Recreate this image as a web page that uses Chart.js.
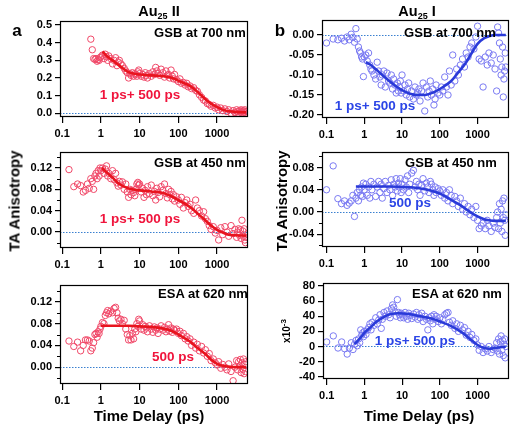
<!DOCTYPE html>
<html>
<head>
<meta charset="utf-8">
<script src="https://cdn.jsdelivr.net/npm/chart.js@4.4.1/dist/chart.umd.min.js"></script>
<style>
  body { margin: 0; width: 514px; height: 427px; position: relative; overflow: hidden; background: #fff;
         font-family: Arial, "Liberation Sans", sans-serif; }
  canvas { position: absolute; }
  .lbl { position: absolute; font-weight: bold; white-space: nowrap; line-height: 1; transform: translate(-50%, -50%); }
  .rot { transform: translate(-50%, -50%) rotate(-90deg); }
  .sub { font-size: 9px; position: relative; top: 3px; }
  .sup { font-size: 8px; position: relative; top: -4px; }
</style>
</head>
<body>
<div class="lbl" style="left:159px;top:11px;font-size:14.5px">Au<span class="sub">25</span> II</div>
<div class="lbl" style="left:417px;top:11px;font-size:14.5px">Au<span class="sub">25</span> I</div>
<div class="lbl" style="left:17px;top:30px;font-size:17px">a</div>
<div class="lbl" style="left:280px;top:30px;font-size:17px">b</div>
<div class="lbl rot" style="left:14px;top:201px;font-size:15px">TA Anisotropy</div>
<div class="lbl rot" style="left:281px;top:201px;font-size:15px">TA Anisotropy</div>
<div class="lbl" style="left:149px;top:415px;font-size:15px">Time Delay (ps)</div>
<div class="lbl" style="left:419px;top:415px;font-size:15px">Time Delay (ps)</div>
<div class="lbl rot" style="left:287px;top:331px;font-size:10px">x10<span class="sup">-3</span></div>

<script>
// shared pump-probe delays (ps)
const delays = [
  0.1, 0.15, 0.2, 0.25, 0.3, 0.35, 0.4, 0.45, 0.5, 0.55, 0.6, 0.65, 0.7, 0.75, 0.8, 0.85, 0.9, 0.95,
  1.0, 1.1, 1.2, 1.3, 1.4, 1.5, 1.6, 1.8, 2.0, 2.2, 2.4, 2.6, 2.8, 3.0, 3.3, 3.6, 4.0, 4.4, 4.8, 5.2, 5.6, 6.0, 6.5, 7.0, 7.5, 8.0, 8.5, 9.0, 9.5,
  10, 11, 12, 13, 14, 15, 16, 18, 20, 22, 24, 26, 28, 30, 33, 36, 40, 44, 48, 52, 56, 60, 65, 70, 75, 80, 90,
  100, 110, 120, 135, 150, 165, 180, 200, 220, 250, 280, 310, 350, 400, 450, 500, 560, 630, 700, 800, 900,
  1000, 1100, 1250, 1400, 1600, 1800, 2000, 2300, 2600, 2900, 3200, 3400, 3600, 3800, 4000, 4200, 4400, 4600, 4800, 5000, 5200, 5400, 5600
];

// Au25 II, GSB 700 nm
const a700 = [
  null, null, null, null, null, null, null, null, null, 0.42, 0.36, 0.31, 0.305, 0.31, 0.295, 0.305, 0.30, 0.315,
  0.32, 0.33, 0.31, 0.335, 0.32, 0.30, 0.325, 0.31, 0.28, 0.30, 0.315, 0.27, 0.29, 0.30, 0.28, 0.27, 0.255, 0.24, 0.23, 0.20, 0.225, 0.215, 0.23, 0.21, 0.225, 0.22, 0.21, 0.235, 0.245,
  0.225, 0.21, 0.22, 0.205, 0.23, 0.215, 0.20, 0.225, 0.21, 0.235, 0.22, 0.26, 0.24, 0.225, 0.215, 0.25, 0.23, 0.205, 0.24, 0.215, 0.22, 0.20, 0.245, 0.21, 0.195, 0.22, 0.19,
  0.18, 0.195, 0.17, 0.175, 0.16, 0.17, 0.15, 0.155, 0.14, 0.145, 0.13, 0.125, 0.105, 0.09, 0.075, 0.07, 0.055, 0.05, 0.04, 0.045, 0.03,
  0.035, 0.02, 0.03, 0.015, 0.025, 0.01, 0.02, 0.0, 0.015, 0.005, 0.02, 0.01, 0.0, 0.015, 0.005, 0.02, 0.01, 0.0, 0.015, 0.005, 0.02, 0.0, 0.01
];
// Au25 II, GSB 450 nm
const a450 = [
  null, 0.117, 0.085, 0.09, 0.087, 0.075, 0.078, 0.09, 0.082, 0.10, 0.095, 0.08, 0.105, 0.11, 0.10, 0.115, 0.105, 0.12,
  0.115, 0.12, 0.11, 0.118, 0.124, 0.105, 0.11, 0.10, 0.115, 0.098, 0.11, 0.092, 0.086, 0.095, 0.088, 0.094, 0.08, 0.09, 0.075, 0.065, 0.08, 0.07, 0.078, 0.074, 0.068, 0.08, 0.09, 0.093, 0.088,
  0.09, 0.075, 0.082, 0.065, 0.078, 0.07, 0.085, 0.072, 0.088, 0.068, 0.076, 0.06, 0.082, 0.074, 0.066, 0.085, 0.078, 0.09, 0.072, 0.064, 0.08, 0.07, 0.076, 0.062, 0.07, 0.058, 0.066,
  0.06, 0.052, 0.065, 0.045, 0.055, 0.06, 0.048, 0.052, 0.04, 0.035, 0.06, 0.045, 0.04, 0.03, 0.038, 0.025, 0.02, 0.012, 0.005, 0.01, -0.002,
  0.003, -0.015, 0.008, -0.005, 0.01, 0.0, -0.008, 0.012, -0.003, 0.005, -0.01, 0.0, 0.006, -0.006, 0.004, -0.012, 0.022, 0.002, -0.008, 0.006, -0.015, -0.02, -0.01
];
// Au25 II, ESA 620 nm
const a620 = [
  null, 0.048, 0.038, 0.046, 0.03, 0.04, 0.05, 0.05, 0.048, 0.03, 0.035, 0.045, 0.06, 0.062, 0.055, 0.065, 0.062, 0.07,
  0.075, 0.082, 0.08, 0.095, 0.1, 0.104, 0.098, 0.103, 0.1, 0.108, 0.11, 0.1, 0.09, 0.085, 0.088, 0.08, 0.086, 0.07, 0.06, 0.05, 0.058, 0.05, 0.062, 0.052, 0.07, 0.065, 0.08, 0.075, 0.088,
  0.085, 0.07, 0.078, 0.068, 0.075, 0.072, 0.065, 0.076, 0.07, 0.064, 0.074, 0.068, 0.072, 0.062, 0.07, 0.076, 0.068, 0.073, 0.065, 0.07, 0.078, 0.066, 0.072, 0.064, 0.07, 0.068, 0.07,
  0.062, 0.066, 0.058, 0.062, 0.052, 0.056, 0.048, 0.052, 0.04, 0.046, 0.035, 0.042, 0.03, 0.038, 0.026, 0.032, 0.02, 0.025, 0.012, 0.015, 0.008,
  0.004, 0.01, -0.002, 0.005, 0.0, -0.005, 0.006, -0.008, -0.025, 0.0, 0.012, -0.005, 0.01, 0.002, 0.014, -0.01, 0.008, -0.004, 0.015, -0.012, 0.005, -0.008, 0.01
];
// Au25 I, GSB 700 nm
const b700 = [
  -0.02, -0.01, -0.012, -0.008, -0.015, -0.005, -0.012, 0.002, -0.006, -0.018, 0.016, -0.01, -0.03, -0.04, -0.045, -0.055, -0.06, -0.104,
  -0.055, -0.05, -0.065, -0.045, -0.075, -0.085, -0.09, -0.1, -0.11, -0.068, -0.09, -0.105, -0.125, -0.1, -0.09, -0.13, -0.095, -0.115, -0.12, -0.1, -0.135, -0.11, -0.125, -0.145, -0.12, -0.14, -0.13, -0.115, -0.145,
  -0.1, -0.14, -0.125, -0.15, -0.135, -0.12, -0.155, -0.14, -0.16, -0.13, -0.15, -0.145, -0.135, -0.165, -0.14, -0.12, -0.19, -0.13, -0.155, -0.14, -0.115, -0.15, -0.135, -0.175, -0.16, -0.125, -0.145,
  -0.15, -0.13, -0.14, -0.105, -0.13, -0.15, -0.09, -0.125, -0.05, -0.115, -0.085, -0.1, -0.075, -0.06, -0.08, -0.045, -0.055, -0.03, -0.02, -0.035, -0.005,
  0.022, -0.06, -0.065, -0.13, -0.055, -0.075, -0.045, -0.07, -0.05, -0.085, -0.14, 0.02, 0.005, -0.02, -0.06, -0.1, -0.08, -0.03, -0.155, -0.11, -0.09, -0.045, -0.08
];
// Au25 I, GSB 450 nm
const b450 = [
  0.04, 0.083, 0.024, 0.015, 0.02, 0.012, 0.016, 0.02, 0.03, -0.008, 0.025, 0.035, 0.02, 0.04, 0.03, 0.045, 0.028, 0.052,
  0.04, 0.05, 0.03, 0.045, 0.025, 0.055, 0.04, 0.05, 0.028, 0.045, 0.055, 0.035, 0.05, 0.025, 0.042, 0.055, 0.035, 0.048, 0.04, 0.058, 0.03, 0.05, 0.045, 0.06, 0.038, 0.052, 0.045, 0.06, 0.035,
  0.05, 0.04, 0.058, 0.045, 0.065, 0.035, 0.05, 0.07, 0.075, 0.045, 0.055, 0.04, 0.05, 0.03, 0.048, 0.06, 0.038, 0.052, 0.045, 0.035, 0.055, 0.05, 0.04, 0.03, 0.045, 0.035, 0.042,
  0.038, 0.03, 0.04, 0.025, 0.035, 0.02, 0.04, 0.03, 0.015, 0.028, 0.02, 0.01, 0.025, 0.005, 0.015, 0.0, 0.01, -0.005, 0.005, -0.01, 0.01,
  -0.015, -0.03, -0.025, -0.02, -0.03, -0.015, -0.025, -0.035, -0.02, -0.028, -0.01, 0.0, -0.03, 0.015, -0.02, 0.005, -0.035, 0.02, -0.01, 0.025, -0.015, -0.042, -0.005
];
// Au25 I, ESA 620 nm (x10^-3)
const b620 = [
  6, 14, -2, 6, -3, -10, -2, 5, -4, 3, 8, 1, 10, 5, 22, 15, 18, 13,
  20, 16, 22, 25, 30, 22, 32, 28, 38, 30, 35, 42, 24, 36, 45, 40, 47, 42, 38, 50, 55, 52, 46, 40, 62, 45, 42, 38, 44,
  42, 38, 45, 40, 36, 44, 41, 37, 43, 39, 45, 36, 42, 38, 44, 33, 40, 36, 22, 38, 34, 40, 30, 42, 36, 40, 33,
  38, 30, 36, 42, 44, 45, 32, 28, 34, 24, 30, 20, 28, 22, 25, 15, 20, 12, 16, 8, 10,
  2, -5, 0, -8, -3, -6, 0, -8, -4, -2, 5, -6, 10, -10, 6, 14, -5, 8, -12, 3, 10, -15, 0
];

// fitted curves
const fitTimeA700 = [1.1, 1.5, 2, 3, 5, 10, 20, 40, 70, 100, 200, 300, 500, 700, 1000, 1500, 2000, 3000, 5600];
const fitA700 = [0.35, 0.32, 0.30, 0.27, 0.235, 0.22, 0.215, 0.21, 0.20, 0.185, 0.155, 0.125, 0.08, 0.055, 0.035, 0.018, 0.012, 0.008, 0.005];
const fitTimeA450 = [1.05, 1.5, 2, 3, 5, 10, 20, 40, 70, 100, 200, 300, 500, 700, 1000, 1500, 2000, 3000, 5600];
const fitA450 = [0.12, 0.11, 0.102, 0.09, 0.082, 0.078, 0.076, 0.073, 0.066, 0.06, 0.047, 0.036, 0.022, 0.012, 0.004, -0.002, -0.005, -0.006, -0.007];
const fitTimeA620 = [1.0, 2, 5, 10, 20, 40, 70, 100, 200, 300, 500, 700, 1000, 1500, 2000, 3000, 5600];
const fitA620 = [0.076, 0.076, 0.076, 0.075, 0.074, 0.071, 0.066, 0.06, 0.047, 0.036, 0.024, 0.014, 0.006, 0.002, 0.001, 0.0, 0.0];
const fitTimeB700 = [1.1, 1.5, 2, 3, 5, 10, 20, 40, 70, 100, 200, 300, 500, 700, 1000, 1500, 2000, 3000, 5600];
const fitB700 = [-0.068, -0.075, -0.085, -0.1, -0.118, -0.138, -0.149, -0.15, -0.143, -0.135, -0.115, -0.095, -0.068, -0.045, -0.022, -0.008, -0.003, 0.0, 0.0];
const fitTimeB450 = [0.6, 1, 2, 5, 10, 20, 40, 70, 100, 200, 300, 500, 700, 1000, 1500, 2000, 3000, 5600];
const fitB450 = [0.046, 0.046, 0.046, 0.046, 0.045, 0.044, 0.041, 0.037, 0.033, 0.022, 0.015, 0.005, -0.002, -0.008, -0.013, -0.015, -0.016, -0.016];
const fitTimeB620 = [0.55, 0.8, 1, 1.5, 2, 3, 5, 8, 15, 30, 60, 100, 200, 400, 700, 1000, 1500, 2000, 3000, 5600];
const fitB620 = [3, 12, 18, 26, 32, 38, 43, 44, 43, 40, 37, 33, 27, 18, 8, 2, -2, -3, -2, 0];

// tick labels
const xTicks = [0.1, 1, 10, 100, 1000];
const yTicksA700 = [0, 0.1, 0.2, 0.3, 0.4, 0.5];
const yTicksA450 = [0, 0.04, 0.08, 0.12];
const yMinorA450 = [-0.02, 0.02, 0.06, 0.1, 0.14];
const yTicksA620 = [0, 0.04, 0.08, 0.12];
const yMinorA620 = [-0.02, 0.02, 0.06, 0.1, 0.14];
const yTicksB700 = [-0.2, -0.15, -0.1, -0.05, 0];
const yTicksB450 = [-0.04, 0, 0.04, 0.08];
const yMinorB450 = [-0.06, -0.02, 0.02, 0.06, 0.1];
const yTicksB620 = [-40, -20, 0, 20, 40, 60, 80];

const RED = { mark: '#f04868', line: '#e8141e' };
const BLUE = { mark: '#7a7af2', line: '#2a3ad8' };

const panels = [
  { vals: a700, fitT: fitTimeA700, fitV: fitA700, frame: [60, 21, 248, 117], x: [0.088, 6300], y: [-0.021, 0.523], major: yTicksA700, minor: [], dec: 1, col: RED },
  { vals: a450, fitT: fitTimeA450, fitV: fitA450, frame: [60, 152, 248, 248], x: [0.088, 6300], y: [-0.03, 0.15], major: yTicksA450, minor: yMinorA450, dec: 2, col: RED },
  { vals: a620, fitT: fitTimeA620, fitV: fitA620, frame: [60, 285, 248, 384], x: [0.088, 6300], y: [-0.031, 0.151], major: yTicksA620, minor: yMinorA620, dec: 2, col: RED },
  { vals: b700, fitT: fitTimeB700, fitV: fitB700, frame: [322, 20, 509, 118], x: [0.076, 6800], y: [-0.2075, 0.0375], major: yTicksB700, minor: [], dec: 2, col: BLUE },
  { vals: b450, fitT: fitTimeB450, fitV: fitB450, frame: [322, 152, 509, 247], x: [0.076, 6800], y: [-0.063, 0.108], major: yTicksB450, minor: yMinorB450, dec: 2, col: BLUE },
  { vals: b620, fitT: fitTimeB620, fitV: fitB620, frame: [323, 283, 509, 379], x: [0.08, 6800], y: [-43, 84], major: yTicksB620, minor: [], dec: 0, col: BLUE }
];

Chart.defaults.font.family = 'Arial, "Liberation Sans", sans-serif';

// frame box, minor y ticks and dotted zero line
const framePlugin = {
  id: 'frame',
  beforeDatasetsDraw(chart, args, opts) {
    const { ctx, chartArea: a } = chart;
    const y0 = Math.round(chart.scales.y.getPixelForValue(0)) + 0.5;
    ctx.save();
    ctx.strokeStyle = '#3a80d0';
    ctx.lineWidth = 1.2;
    ctx.setLineDash([1.5, 1.5]);
    ctx.beginPath();
    ctx.moveTo(a.left, y0);
    ctx.lineTo(a.right, y0);
    ctx.stroke();
    ctx.restore();
  },
  afterDraw(chart, args, opts) {
    const { ctx, chartArea: a } = chart;
    ctx.save();
    ctx.strokeStyle = '#000';
    ctx.lineWidth = 1.2;
    ctx.strokeRect(Math.round(a.left) + 0.5, Math.round(a.top) + 0.5, Math.round(a.right - a.left) - 1, Math.round(a.bottom - a.top) - 1);
    ctx.beginPath();
    (opts.minor || []).forEach(v => {
      const py = Math.round(chart.scales.y.getPixelForValue(v)) + 0.5;
      ctx.moveTo(a.left, py);
      ctx.lineTo(a.left - 3, py);
    });
    ctx.stroke();
    ctx.restore();
  }
};

function buildPanel(p) {
  const [l, t, r, b] = p.frame;
  const padL = 58, padT = 12, padR = 5, padB = 28;
  const w = r - l + padL + padR, h = b - t + padT + padB;
  const cv = document.createElement('canvas');
  cv.width = w; cv.height = h;
  cv.style.left = (l - padL) + 'px';
  cv.style.top = (t - padT) + 'px';
  cv.style.width = w + 'px';
  cv.style.height = h + 'px';
  document.body.insertBefore(cv, document.body.firstChild);

  const pts = delays.map((d, i) => ({ x: d, y: p.vals[i] })).filter(q => q.y !== null);
  const fit = p.fitT.map((d, i) => ({ x: d, y: p.fitV[i] }));
  const tickFont = { size: 11, weight: 'bold' };

  new Chart(cv, {
    type: 'scatter',
    data: {
      datasets: [
        { data: fit, showLine: true, borderColor: p.col.line, borderWidth: 2.6, pointRadius: 0,
          cubicInterpolationMode: 'monotone', order: 0 },
        { data: pts, pointRadius: 3.2, pointBorderWidth: 1, pointBorderColor: p.col.mark,
          pointBackgroundColor: 'rgba(0,0,0,0)', order: 1 }
      ]
    },
    options: {
      responsive: false,
      animation: false,
      events: [],
      layout: { padding: { left: 0, top: padT, right: padR, bottom: 0 } },
      plugins: { legend: { display: false }, tooltip: { enabled: false }, frame: { minor: p.minor } },
      scales: {
        x: {
          type: 'logarithmic', min: p.x[0], max: p.x[1],
          afterBuildTicks: s => { s.ticks = xTicks.map(v => ({ value: v })); },
          afterFit: s => { s.height = padB; },
          border: { display: false },
          grid: { drawOnChartArea: false, tickLength: 6, color: '#000', lineWidth: 1.2 },
          ticks: { callback: v => String(v), color: '#000', font: tickFont, padding: 4, maxRotation: 0, autoSkip: false }
        },
        y: {
          min: p.y[0], max: p.y[1],
          afterBuildTicks: s => { s.ticks = p.major.map(v => ({ value: v })); },
          afterFit: s => { s.width = padL; },
          border: { display: false },
          grid: { drawOnChartArea: false, tickLength: 5, color: '#000', lineWidth: 1.2 },
          ticks: { callback: v => Number(v).toFixed(p.dec), color: '#000', font: tickFont, padding: 3, autoSkip: false }
        }
      }
    },
    plugins: [framePlugin]
  });
}

panels.forEach(buildPanel);
</script>

<div class="lbl" style="left:200px;top:32px;font-size:13px">GSB at 700 nm</div>
<div class="lbl" style="left:200px;top:162px;font-size:13px">GSB at 450 nm</div>
<div class="lbl" style="left:203px;top:293px;font-size:13px">ESA at 620 nm</div>
<div class="lbl" style="left:450px;top:32px;font-size:13px">GSB at 700 nm</div>
<div class="lbl" style="left:451px;top:162px;font-size:13px">GSB at 450 nm</div>
<div class="lbl" style="left:457px;top:293px;font-size:13px">ESA at 620 nm</div>
<div class="lbl" style="left:140px;top:95px;font-size:13.5px;color:#f0143c">1 ps+ 500 ps</div>
<div class="lbl" style="left:140px;top:219px;font-size:13.5px;color:#f0143c">1 ps+ 500 ps</div>
<div class="lbl" style="left:173px;top:357px;font-size:13.5px;color:#f0143c">500 ps</div>
<div class="lbl" style="left:375px;top:106px;font-size:13.5px;color:#2b45e6">1 ps+ 500 ps</div>
<div class="lbl" style="left:410px;top:203px;font-size:13.5px;color:#2b45e6">500 ps</div>
<div class="lbl" style="left:415px;top:341px;font-size:13.5px;color:#2b45e6">1 ps+ 500 ps</div>
</body>
</html>
